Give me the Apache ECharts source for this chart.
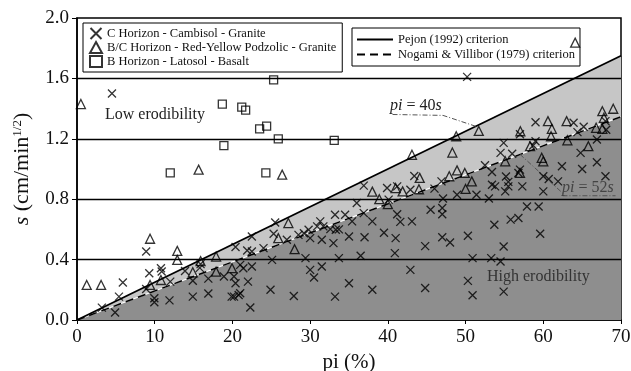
<!DOCTYPE html>
<html>
<head>
<meta charset="utf-8">
<script src="https://cdn.jsdelivr.net/npm/echarts@6/dist/echarts.min.js"></script>
<style>html,body{margin:0;padding:0;background:#fff}#c{width:631px;height:371px}</style>
</head>
<body>
<div id="c"></div>
<script>
// ---- data ----
const xTicks = [0, 10, 20, 30, 40, 50, 60, 70];
const yTicks = [0, 0.4, 0.8, 1.2, 1.6, 2.0];
const pejonRatio = 40;   // pi = 40 s
const nogamiRatio = 52;  // pi = 52 s

const cHorizon = [
[3.2,0.082],[4.9,0.05],[5.4,0.155],[5.9,0.248],[4.5,1.50],
[8.9,0.454],[8.9,0.205],[9.3,0.31],[9.95,0.144],[9.95,0.117],
[10.8,0.343],[10.9,0.321],[11.9,0.13],[12.0,0.254],[13.9,0.325],
[14.9,0.26],[14.9,0.155],[15.8,0.345],[15.9,0.37],[16.9,0.274],[16.9,0.175],
[18.9,0.288],[19.9,0.155],[20.2,0.288],[20.2,0.155],[20.8,0.166],[21.0,0.177],[20.4,0.243],
[21.0,0.365],[21.4,0.343],[20.4,0.483],[21.9,0.46],[22.5,0.553],[22.5,0.454],[22.5,0.354],
[22.0,0.254],[22.3,0.083],
[24.0,0.476],[25.5,0.646],[25.3,0.571],[25.1,0.398],[24.9,0.2],[27.0,0.531],[27.9,0.159],
[28.5,0.564],[29.2,0.575],[29.4,0.41],
[30.0,0.542],[29.8,0.598],[30.9,0.62],[31.3,0.653],[31.7,0.62],[31.5,0.531],[30.0,0.332],
[30.5,0.282],[31.5,0.354],[32.6,0.602],[33.2,0.697],[34.5,0.697],[33.3,0.598],[33.7,0.6],
[33.0,0.509],[33.7,0.41],[33.2,0.155],[35.0,0.553],[35.0,0.243],[35.4,0.653],[36.0,0.775],
[36.9,0.708],[36.9,0.89],[37.0,0.548],[36.5,0.425],[38.0,0.653],[38.0,0.2],[39.5,0.578],
[39.9,0.874],[40.1,0.797],
[41.2,0.885],[41.2,0.7],[41.6,0.65],[43.1,0.653],[41.0,0.542],[40.9,0.443],[42.9,0.863],
[43.4,0.954],[42.9,0.332],[44.8,0.489],[44.8,0.212],[45.5,0.73],[46.0,0.87],
[46.9,0.918],[47.1,0.805],[47.0,0.742],[47.0,0.7],[47.0,0.548],[48.0,0.513],[48.9,0.83],
[50.2,1.61],[50.3,0.558],[50.9,0.41],[50.3,0.259],[50.9,0.164],[51.4,0.83],[52.5,1.025],
[53.0,0.805],[53.4,0.896],[53.8,0.885],[53.4,0.98],
[53.7,0.631],[53.3,0.41],[54.5,0.387],[54.9,0.188],[54.9,0.487],[55.8,0.665],[56.8,0.675],
[57.9,0.752],[59.4,0.752],[59.6,0.571],
[54.9,1.173],[54.5,1.107],[56.0,1.101],[55.2,0.95],[55.5,0.915],[55.5,0.885],[55.1,0.852],
[57.0,0.996],[56.8,0.974],[57.3,0.885],
[57.0,1.23],[59.0,1.31],[59.0,1.184],[58.7,1.156],
[60.0,0.952],[60.7,0.934],[61.9,0.918],[60.0,0.852],[62.4,1.018],[63.9,1.306],[65.2,1.28],
[64.4,1.244],[64.8,1.107],[65.0,1.0],[66.9,1.195],[66.9,1.045],[68.0,0.952],[68.0,1.317],
[68.1,1.26]
];

const bcHorizon = [
[0.5,1.43],[1.25,0.232],[3.1,0.232],[9.4,0.538],[9.4,0.232],[10.8,0.265],[12.9,0.458],
[12.9,0.398],[14.9,0.316],[15.65,0.996],[15.9,0.39],[17.9,0.42],[17.9,0.32],[19.95,0.343],
[25.9,0.542],[26.4,0.963],[27.2,0.642],[28.0,0.469],[38.0,0.85],[38.9,0.8],[40.0,0.767],
[41.0,0.874],[41.9,0.852],[43.1,1.094],[44.1,0.941],[44.0,0.866],[47.9,0.952],[48.3,1.109],
[48.8,1.217],[48.9,0.991],[49.9,0.974],[50.8,0.918],[50.0,0.868],[51.7,1.252],[55.1,1.051],
[57.0,0.974],[57.05,1.25],[58.3,1.151],[59.8,1.074],[60.0,1.051],[60.6,1.317],[61.1,1.266],
[61.0,1.217],[63.1,1.19],[63.0,1.317],[64.1,1.837],[65.8,1.151],[66.8,1.273],[67.6,1.266],
[67.8,1.339],[67.6,1.383],[69.0,1.399]
];

const bHorizon = [
[12.0,0.974],[18.7,1.43],[18.9,1.155],[21.2,1.41],[21.7,1.39],[23.5,1.266],[24.3,0.974],
[24.4,1.284],[25.3,1.59],[25.9,1.20],[33.1,1.19]
];

// annotation leader lines (data coordinates)
const leader40 = [[40.6,1.361],[47.1,1.355],[51.3,1.283]];
const leader52 = [[57.0,1.097],[62.5,0.84],[62.5,0.823],[69.3,0.823]];

const seriesNames = ['C Horizon - Cambisol - Granite','B/C Horizon - Red-Yellow Podzolic - Granite','B Horizon - Latosol - Basalt'];
const lineNames = ['Pejon (1992) criterion','Nogami & Villibor (1979) criterion'];

// ---- chart ----
const FONT = '"Liberation Serif","Times New Roman",serif';
const xMin = xTicks[0], xMax = xTicks[xTicks.length-1];
const pejonLine = [[xMin, xMin/pejonRatio],[xMax, xMax/pejonRatio]];
const nogamiLine = [[xMin, xMin/nogamiRatio],[xMax, xMax/nogamiRatio]];
const gridLines = yTicks.slice(1, -1).map(v => ({yAxis: v}));

const chart = echarts.init(document.getElementById('c'), null, {renderer:'canvas'});
const markerStyle = {color:'transparent', borderColor:'#000', borderWidth:1.3};

chart.setOption({
  animation:false,
  backgroundColor:'#fff',
  grid:{left:77, right:10, top:18, bottom:51, show:true, borderColor:'#000', borderWidth:1.5,
        backgroundColor:'transparent', containLabel:false, outerBoundsMode:'none'},
  xAxis:{
    type:'value', min:xMin, max:xMax, interval:10,
    name:'pi (%)', nameLocation:'middle', nameGap:21,
    nameTextStyle:{fontFamily:FONT, fontSize:21, color:'#111'},
    axisLine:{lineStyle:{color:'#000', width:1.5}},
    axisTick:{show:true, inside:false, length:4, lineStyle:{color:'#000'}},
    axisLabel:{fontFamily:FONT, fontSize:19, color:'#111', margin:8},
    splitLine:{show:false}
  },
  yAxis:{
    type:'value', min:0, max:2, interval:0.4,
    name:'{i|s} (cm/min{sup|1/2})', nameLocation:'middle', nameGap:44, nameRotate:90,
    nameTextStyle:{fontFamily:FONT, fontSize:22, color:'#111',
      rich:{i:{fontFamily:FONT, fontStyle:'italic', fontSize:22, color:'#111'},
            sup:{fontFamily:FONT, fontSize:13, color:'#111', padding:[0,0,9,0]}}},
    axisLine:{lineStyle:{color:'#000', width:1.5}},
    axisTick:{show:true, length:5, lineStyle:{color:'#000'}},
    axisLabel:{fontFamily:FONT, fontSize:19, color:'#111', margin:8, formatter:v=>v.toFixed(1)},
    splitLine:{show:false}
  },
  legend:[
    {data:seriesNames, orient:'vertical', left:83, top:23, itemGap:1, itemWidth:12, itemHeight:11,
     padding:[4,6,4,6], borderColor:'#000', borderWidth:1, backgroundColor:'#fff', selectedMode:false,
     textStyle:{fontFamily:FONT, fontSize:12.5, color:'#111'}},
    {data:lineNames, orient:'vertical', left:352, top:28, itemGap:2, itemWidth:36, itemHeight:10,
     padding:[5,5,5,4], borderColor:'#000', borderWidth:1, backgroundColor:'#fff', selectedMode:false,
     itemStyle:{opacity:0},
     textStyle:{fontFamily:FONT, fontSize:12.5, color:'#111'}}
  ],
  series:[
    {type:'line', name:'pejonFill', data:pejonLine, symbol:'none', silent:true, z:1,
     lineStyle:{width:0}, areaStyle:{color:'#c6c6c6', opacity:1}},
    {type:'line', name:'nogamiFill', data:nogamiLine, symbol:'none', silent:true, z:1,
     lineStyle:{width:1.3, color:'#fff'}, areaStyle:{color:'#8e8e8e', opacity:1},
     markLine:{silent:true, symbol:'none', label:{show:false}, lineStyle:{color:'#000', width:1.3, type:'solid'}, data:gridLines, z:2}},
    {type:'line', name:lineNames[0], data:pejonLine, symbol:'none', silent:true, z:3,
     itemStyle:{color:'#000', opacity:0}, lineStyle:{color:'#000', width:1.8, opacity:1}},
    {type:'line', name:lineNames[1], data:nogamiLine, symbol:'none', silent:true, z:3,
     itemStyle:{color:'#000', opacity:0}, lineStyle:{color:'#000', width:1.5, type:[8,5], opacity:1}},
    {type:'line', name:'leader40', data:leader40, symbol:'none', silent:true, z:3,
     lineStyle:{color:'#555', width:1, type:[5,2,1,2]}},
    {type:'line', name:'leader52', data:leader52, symbol:'none', silent:true, z:3,
     lineStyle:{color:'#555', width:1, type:[5,2,1,2]}},
    {type:'scatter', name:seriesNames[0], data:cHorizon, z:5,
     symbol:'path://M0,0L10,10M10,0L0,10', symbolSize:8, itemStyle:markerStyle},
    {type:'scatter', name:seriesNames[1], data:bcHorizon, z:5,
     symbol:'triangle', symbolSize:9, itemStyle:markerStyle},
    {type:'scatter', name:seriesNames[2], data:bHorizon, z:5,
     symbol:'rect', symbolSize:8, itemStyle:markerStyle}
  ],
  graphic:[
    {type:'text', left:105, top:107, z:10, style:{text:'Low erodibility', font:'16px '+FONT, fill:'#222'}},
    {type:'text', left:487, top:269, z:10, style:{text:'High erodibility', font:'16px '+FONT, fill:'#333'}},
    {type:'text', left:390, top:98, z:10, style:{text:'{i|pi} = 40{i|s}', font:'16px '+FONT, fill:'#222',
      rich:{i:{font:'italic 16px '+FONT, fill:'#222'}}}},
    {type:'text', left:562, top:180, z:10, style:{text:'{i|pi} = 52{i|s}', font:'16px '+FONT, fill:'#444',
      rich:{i:{font:'italic 16px '+FONT, fill:'#444'}}}}
  ]
});
</script>
</body>
</html>
